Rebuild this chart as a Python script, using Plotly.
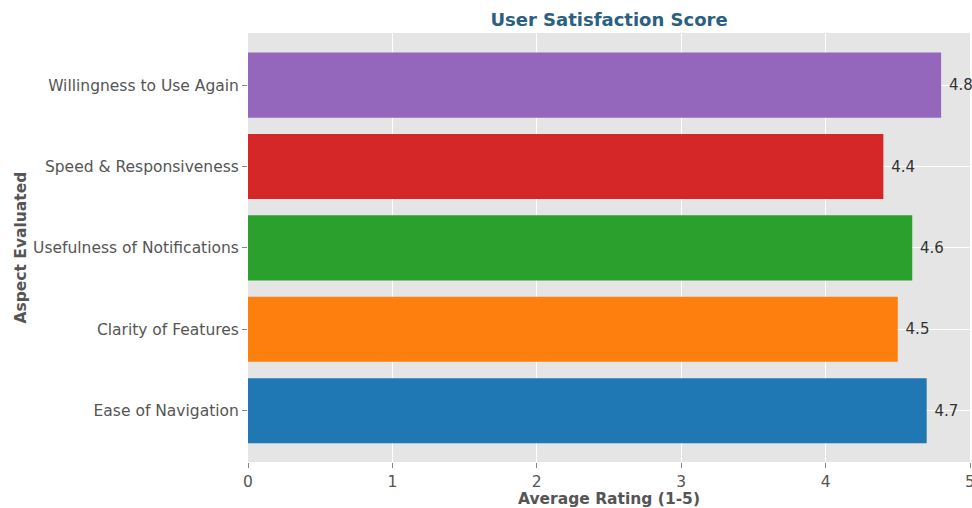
import plotly.graph_objects as go

categories = ["Ease of Navigation", "Clarity of Features", "Usefulness of Notifications",
              "Speed & Responsiveness", "Willingness to Use Again"]
ratings = [4.7, 4.5, 4.6, 4.4, 4.8]
colors = ["#1f77b4", "#ff7f0e", "#2ca02c", "#d62728", "#9467bd"]
x_ticks = [0, 1, 2, 3, 4, 5]

fig = go.Figure(go.Bar(
    y=categories, x=ratings, orientation="h",
    marker=dict(color=colors, line=dict(width=0)),
    width=0.8,
    text=[f"\u00a0{v:.1f}" for v in ratings],
    textposition="outside",
    textfont=dict(family="DejaVu Sans", size=15, color="#333333"),
    cliponaxis=False,
))

fig.update_layout(
    width=972, height=508,
    margin=dict(l=248, r=2, t=33, b=46, autoexpand=False),
    paper_bgcolor="white",
    plot_bgcolor="#e5e5e5",
    showlegend=False,
    font=dict(family="DejaVu Sans", size=15, color="#555555"),
    title=dict(text="<b>User Satisfaction Score</b>", x=(248 + 970) / 2 / 972, xanchor="center",
               y=1 - 20 / 508, yanchor="middle",
               font=dict(family="DejaVu Sans", size=18, color="#2a6080")),
    bargap=0.2,
)
fig.update_xaxes(
    range=[0, 5], tickvals=x_ticks, showgrid=True, gridcolor="white", gridwidth=1,
    zeroline=False, ticks="outside", ticklen=5, tickcolor="#888888", automargin=False,
    tickfont=dict(size=15.5, color="#555555"), ticklabeloverflow="allow",
    title=dict(text="<b>Average Rating (1-5)</b>", font=dict(size=15.5, color="#555555"), standoff=6),
)
fig.update_yaxes(
    range=[-0.63, 4.64], showgrid=True, gridcolor="white", gridwidth=1,
    ticks="outside", ticklen=5, tickcolor="#888888", automargin=False,
    tickfont=dict(size=15.5, color="#555555"),
)
fig.add_annotation(
    text="<b>Aspect Evaluated</b>", textangle=-90,
    xref="paper", yref="paper", x=(20 - 248) / 722, y=0.5,
    xanchor="center", yanchor="middle", showarrow=False,
    font=dict(family="DejaVu Sans", size=15.5, color="#555555"),
)

fig.write_html("out.html")
